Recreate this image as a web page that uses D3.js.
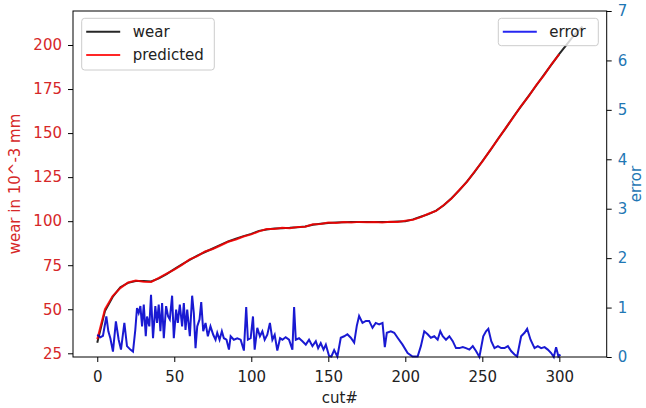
<!DOCTYPE html>
<meta charset="utf-8">
<head>
  <title>wear / predicted / error</title>
</head>
<style>
body { margin: 0; background: #fff; }
svg { font-family: "DejaVu Sans", sans-serif; }
</style>
<body>
<svg id="chart" width="646" height="408"></svg>
<script src="https://cdn.jsdelivr.net/npm/d3@7"></script>
<script>
// wear is measured every 5 cuts, 0..315
var wearCut = d3.range(0, 316, 5);
var wear = [31, 49, 57, 62.5, 65, 66, 66, 65.8, 67.5, 70, 72.8, 75.5, 78, 80.5, 82.5, 84.5,
  86.5, 88.5, 90, 91.5, 92.8, 94.5, 95.3, 95.8, 96, 96.2, 96.5, 97, 98, 98.6, 99, 99.2,
  99.4, 99.5, 99.5, 99.5, 99.5, 99.5, 99.6, 99.8, 100, 101, 102.5, 104, 106, 109, 113, 117.5,
  122.5, 128, 134, 140, 146.5, 152.5, 159, 165, 171, 177, 183, 189, 195, 200.5, 206, 210.5];

// predicted, 0..300
var predCut = d3.range(0, 301, 5);
var predicted = [33, 50, 57.5, 62, 65.2, 66.3, 65.6, 65.5, 67.8, 70.2, 72.5, 75.2, 78.3, 80.2, 82.8, 84.2,
  86.2, 88.3, 89.6, 91.3, 92.5, 94.2, 95.5, 95.5, 96.3, 96, 96.7, 96.8, 98.2, 98.4, 99.2, 99,
  99.5, 99.3, 99.6, 99.4, 99.5, 99.3, 99.7, 99.6, 100.2, 100.8, 102.3, 104.2, 105.8, 109.2, 112.8, 117.7,
  122.3, 128.2, 133.8, 140.2, 146.3, 152.7, 158.8, 165.2, 170.8, 177.2, 182.8, 189.2, 194.8];

// error on right axis
var errCut = [0, 2, 3.7, 5.9, 7.2, 8.5, 10.2, 12.1, 13.9, 15.4, 17.6, 19.3, 21.5, 23.2, 24.7, 25.8,
  26.9, 28, 29.1, 30.2, 31.5, 32.3, 33.8, 34.9, 36.2, 37.7, 38.8, 39.9, 41, 42.1, 43.2, 44.7,
  46, 47.1, 48.6, 49.7, 51.2, 52.3, 53.6, 55.1, 56.2, 57.3, 58.4, 60.1, 61.6, 62.7, 63.8, 64.9,
  66.4, 67.5, 68.8, 70.3, 71.8, 73.5, 75.3, 76.8, 77.9, 79.4, 80.9, 82.2, 83.9, 85.5, 86.6, 88.7,
  90.9, 93.1, 95.2, 96.7, 97.8, 99.6, 101.1, 102.2, 103.9, 105.6, 107.2, 108.7, 110.4, 112.1, 113.7, 115.2,
  116.9, 118.7, 120.2, 122.3, 124.5, 126.7, 127.8, 128.9, 131, 133.2, 135.4, 137.5, 139.7, 141.9, 143.4, 145.1,
  146.9, 148.4, 150.5, 152, 153.8, 155.9, 158.1, 160.3, 162.4, 164.6, 166.8, 168.5, 170, 172.2, 174.4, 176.5,
  178.7, 180.8, 183, 185.2, 186.7, 188, 190.6, 192.8, 195, 198.2, 201.5, 204.7, 208, 210.1, 212.3, 214.5,
  216.6, 218.8, 221, 222.7, 224.3, 226.4, 228.6, 230.8, 232.9, 235.1, 237.3, 239.4, 241.6, 243.8, 245.9, 248.1,
  250.6, 252.4, 253.9, 255.8, 257.9, 260.1, 262.2, 264.4, 266.6, 268.7, 270.9, 272.6, 275.2, 277.4, 279.1, 281.3,
  283.9, 286, 288.2, 290.4, 292.5, 294.7, 296.4, 297.9, 299.4, 300.7];
var errVal = [0.45, 0.40, 0.43, 0.82, 0.52, 0.38, 0.11, 0.72, 0.35, 0.15, 0.69, 0.22, 0.15, 0.11, 0.55, 0.99,
  0.89, 1.03, 0.62, 1.06, 0.42, 0.82, 0.62, 1.26, 0.38, 1.03, 0.69, 1.06, 0.52, 1.09, 0.38, 1.03,
  0.82, 0.76, 1.24, 0.38, 0.96, 0.69, 1.06, 0.62, 1.09, 0.55, 0.96, 0.42, 1.24, 0.89, 0.18, 0.62,
  0.76, 1.11, 0.52, 0.69, 0.42, 0.62, 0.45, 0.35, 0.49, 0.35, 0.52, 0.38, 0.35, 0.15, 0.42, 0.35,
  0.38, 0.35, 0.13, 1.01, 0.35, 0.38, 0.82, 0.15, 0.59, 0.42, 0.52, 0.35, 0.45, 0.69, 0.35, 0.45,
  0.13, 0.38, 0.35, 0.40, 0.35, 0.15, 1.01, 0.35, 0.38, 0.32, 0.25, 0.35, 0.22, 0.32, 0.18, 0.28,
  0.15, 0.25, 0.02, 0.01, 0.14, 0.01, 0.39, 0.42, 0.46, 0.39, 0.29, 0.63, 0.83, 0.69, 0.73, 0.73,
  0.59, 0.69, 0.66, 0.69, 0.20, 0.49, 0.52, 0.49, 0.39, 0.25, 0.08, 0.01, 0.01, 0.22, 0.52, 0.46,
  0.39, 0.42, 0.35, 0.52, 0.42, 0.35, 0.42, 0.32, 0.18, 0.18, 0.20, 0.18, 0.15, 0.22, 0.12, 0.0,
  0.42, 0.52, 0.57, 0.32, 0.18, 0.22, 0.18, 0.18, 0.22, 0.12, 0.05, 0.01, 0.42, 0.49, 0.57, 0.35,
  0.18, 0.22, 0.18, 0.20, 0.15, 0.08, 0.0, 0.20, 0.01, 0.05];

var xTicks = [0, 50, 100, 150, 200, 250, 300];
var wearTicks = [25, 50, 75, 100, 125, 150, 175, 200];
var errTicks = [0, 1, 2, 3, 4, 5, 6, 7];

var svg = d3.select('#chart');
// note: "top" is a reserved window global, so use plot* names
var plotL = 73, plotR = 606.7, plotT = 11, plotB = 357;
var FS = '15px';

var x = d3.scaleLinear().domain([-15.75, 330.75]).range([plotL, plotR]);
var yL = d3.scaleLinear().domain([22.9, 219.3]).range([plotB, plotT]);
var yR = d3.scaleLinear().domain([0, 7]).range([plotB, plotT]);

var RED = '#d62728', BLUE = '#1f77b4';

function styleAxis(g, col) {
  g.select('.domain').remove();
  g.selectAll('.tick line').attr('stroke', '#000').attr('stroke-width', 1);
  g.selectAll('.tick text').attr('fill', col).style('font-size', FS)
    .style('font-family', '"DejaVu Sans", sans-serif');
}

// bottom axis
svg.append('g').attr('transform', 'translate(0,' + plotB + ')')
  .call(d3.axisBottom(x).tickValues(xTicks).tickSize(5).tickPadding(9))
  .call(styleAxis, '#222');
// left axis
svg.append('g').attr('transform', 'translate(' + plotL + ',0)')
  .call(d3.axisLeft(yL).tickValues(wearTicks).tickSize(5).tickPadding(6))
  .call(styleAxis, RED);
// right axis
svg.append('g').attr('transform', 'translate(' + plotR + ',0)')
  .call(d3.axisRight(yR).tickValues(errTicks).tickFormat(d3.format('d')).tickSize(5).tickPadding(6))
  .call(styleAxis, BLUE);

var wearLine = d3.line().x(function(d, i) { return x(wearCut[i]); }).y(function(d) { return yL(d); });
var predLine = d3.line().x(function(d, i) { return x(predCut[i]); }).y(function(d) { return yL(d); });
var errLine = d3.line().x(function(d, i) { return x(errCut[i]); }).y(function(d) { return yR(d); });

// ax1 lines
svg.append('path').datum(wear).attr('d', wearLine)
  .attr('fill', 'none').attr('stroke', '#000').attr('stroke-width', 2).attr('stroke-opacity', 0.85);
svg.append('path').datum(predicted).attr('d', predLine)
  .attr('fill', 'none').attr('stroke', '#ff0000').attr('stroke-width', 2).attr('stroke-opacity', 0.85);

function legend(x0, y0, w, h, items) {
  var g = svg.append('g');
  g.append('rect').attr('x', x0).attr('y', y0).attr('width', w).attr('height', h)
    .attr('rx', 3).attr('fill', '#fff').attr('fill-opacity', 0.8)
    .attr('stroke', '#ccc').attr('stroke-width', 1);
  items.forEach(function(it, i) {
    var yy = y0 + 13.5 + i * 23.3;
    g.append('line').attr('x1', x0 + 4.5).attr('x2', x0 + 38.5).attr('y1', yy).attr('y2', yy)
      .attr('stroke', it.color).attr('stroke-width', 2).attr('stroke-opacity', 0.85);
    g.append('text').attr('x', x0 + 51).attr('y', yy).attr('dy', '0.35em')
      .style('font-size', FS).attr('fill', '#222').text(it.label);
  });
}
legend(81.7, 18.3, 132.6, 51.7, [{label: 'wear', color: '#000'}, {label: 'predicted', color: '#ff0000'}]);

// ax2
svg.append('path').datum(errVal).attr('d', errLine)
  .attr('fill', 'none').attr('stroke', '#0000cd').attr('stroke-width', 2).attr('stroke-opacity', 0.9);
legend(498.3, 18.3, 100, 27.4, [{label: 'error', color: '#0000ee'}]);

// frame
svg.append('rect').attr('x', plotL).attr('y', plotT).attr('width', plotR - plotL).attr('height', plotB - plotT)
  .attr('fill', 'none').attr('stroke', '#000').attr('stroke-width', 1);

// axis labels
svg.append('text').attr('x', (plotL + plotR) / 2).attr('y', 403).attr('text-anchor', 'middle')
  .style('font-size', FS).attr('fill', '#222').text('cut#');
svg.append('text').attr('transform', 'translate(20,' + (plotT + plotB) / 2 + ') rotate(-90)')
  .attr('text-anchor', 'middle').style('font-size', FS).attr('fill', RED).text('wear in 10^-3 mm');
svg.append('text').attr('transform', 'translate(641,' + (plotT + plotB) / 2 + ') rotate(-90)')
  .attr('text-anchor', 'middle').style('font-size', FS).attr('fill', BLUE).text('error');
</script>
</body>
</html>
